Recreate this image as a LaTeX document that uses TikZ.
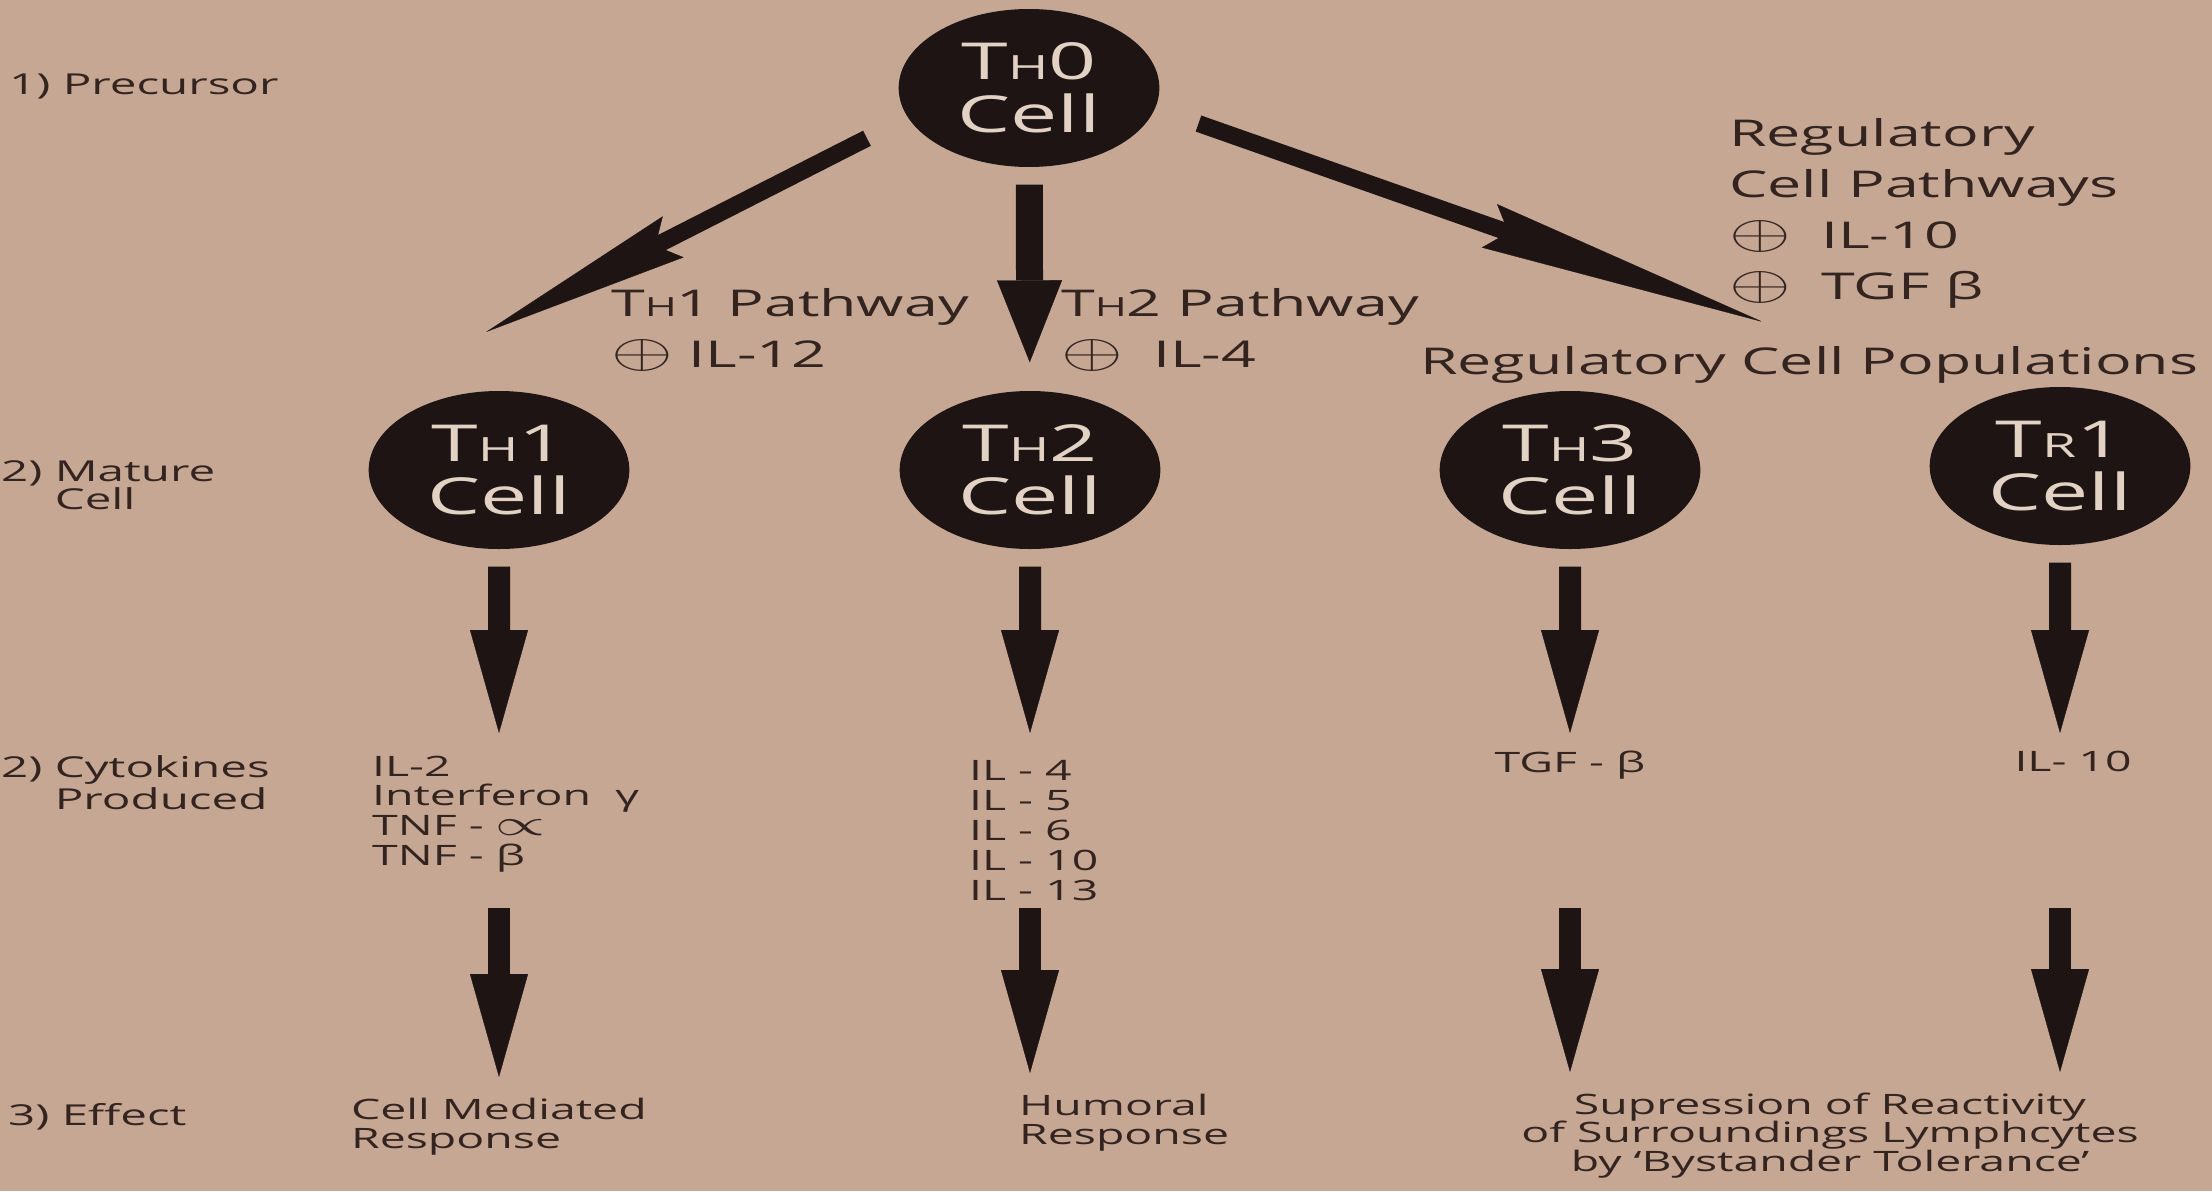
\documentclass[tikz,border=0pt]{standalone}
\usepackage{fontspec}
\setmainfont{Open Sans}
\usetikzlibrary{arrows.meta}
\definecolor{paper}{RGB}{197,167,148}
\definecolor{ink}{RGB}{30,20,20}
\definecolor{print}{RGB}{52,36,32}
\definecolor{chalk}{RGB}{226,210,196}
\newcommand{\lowcap}[2]{{\fontsize{#1}{#1}\selectfont #2}}
\newcommand{\oplusmark}{\scalebox{1.25}{$\oplus$}}
\tikzset{
  cell/.style={circle, fill=ink, minimum size=1.58cm, inner sep=0pt, xscale=1.65,
    text=chalk, align=center, font=\fontsize{14.5}{15}\selectfont},
  rowlabel/.style={anchor=north west, inner sep=0pt, xscale=1.65, align=left,
    text=print, font=\fontsize{8.2}{7.9}\selectfont},
  pathlabel/.style={anchor=north west, inner sep=0pt, xscale=1.65, align=left,
    text=print, font=\fontsize{10.5}{14.5}\selectfont},
  cytolist/.style={inner sep=0pt, xscale=1.65, text=print, font=\fontsize{8}{8.5}\selectfont},
  fatarrow/.style={draw=ink, line width=0.22cm, -{Triangle[length=1.03cm,width=0.58cm,line width=0.1pt]}},
  diagarrow/.style={draw=ink, line width=0.17cm, -{Stealth[length=#1,width=0.46cm,inset=0.2cm,line width=0.1pt]}}
}
\begin{document}
\begin{tikzpicture}
\fill[paper] (0,0) rectangle (22.12,11.91);
\useasboundingbox (0,0) rectangle (22.12,11.91);

% cells
\node[cell] (th0) at (10.29,11.03) {T\lowcap{9.5}{H}0\\Cell};
\node[cell] (th1) at (4.99,7.21) {T\lowcap{9.5}{H}1\\Cell};
\node[cell] (th2) at (10.30,7.21) {T\lowcap{9.5}{H}2\\Cell};
\node[cell] (th3) at (15.70,7.21) {T\lowcap{9.5}{H}3\\Cell};
\node[cell] (tr1) at (20.60,7.25) {T\lowcap{9.5}{R}1\\Cell};

% row labels
\node[rowlabel] (precursor) at (0.08,11.18) {1) Precursor};
\node[rowlabel] (mature) at (0,7.31) {2) Mature\\\hphantom{2) }Cell};
\node[rowlabel] (cytokines) at (0,4.36) {2) Cytokines\\\hphantom{2) }Produced};
\node[rowlabel] (effect) at (0.07,0.88) {3) Effect};

% pathways
\node[pathlabel] (th1path) at (6.10,9.03) {T\lowcap{7.5}{H}1 Pathway\\\oplusmark{} IL-12};
\node[pathlabel] (th2path) at (10.60,9.03) {T\lowcap{7.5}{H}2 Pathway\\\oplusmark{}\enspace IL-4};
\node[pathlabel] (regpath) at (17.28,10.73) {Regulatory\\Cell Pathways\\\oplusmark\enspace IL-10\\\oplusmark\enspace TGF β};
\node[pathlabel] (regpop) at (14.19,8.45) {Regulatory Cell Populations};

% cytokines
\node[cytolist, anchor=north west, align=left] (cyto1) at (3.71,4.36) {IL-2\\Interferon\ \ γ\\TNF - \scalebox{1.3}{$\propto$}\\TNF - β};
\node[cytolist, anchor=north west, align=left] (cyto2) at (9.68,4.31) {IL - 4\\IL - 5\\IL - 6\\IL - 10\\IL - 13};
\node[cytolist, anchor=north] (cyto3) at (15.70,4.41) {TGF - β};
\node[cytolist, anchor=north] (cyto4) at (20.73,4.41) {IL- 10};

% effects
\node[cytolist, anchor=north west, align=left] (effect1) at (3.50,0.94) {Cell Mediated\\Response};
\node[cytolist, anchor=north west, align=left] (effect2) at (10.18,0.98) {Humoral\\Response};
\node[cytolist, anchor=north, align=center, font=\fontsize{8}{8.1}\selectfont] (effect3) at (18.30,0.99)
  {Supression of Reactivity\\of Surroundings Lymphcytes\\by `Bystander Tolerance'};

% arrows
\coordinate (cytotip) at (0,4.58);
\coordinate (effrow) at (0,2.83);
\coordinate (th1tip) at (4.86,8.59);
\coordinate (regtip) at (17.63,8.69);

\draw[diagarrow=2.1cm, shorten <=0.45cm] (th0.202) -- (th1tip);
\draw[fatarrow, line width=0.27cm, -{Triangle[length=0.82cm,width=0.65cm,line width=0.1pt]},
  shorten <=0.17cm, shorten >=0.28cm] (th0) -- (th2);
\draw[diagarrow=2.9cm, shorten <=0.45cm] (th0.345) -- (regtip);

\foreach \c in {th1,th2,th3,tr1}
  \draw[fatarrow, shorten <=0.17cm] (\c) -- (\c |- cytotip);
\foreach \c/\e in {th1/effect1,th2/effect2,th3/effect3,tr1/effect3}
  \draw[fatarrow, shorten >=0.2cm] (\c |- effrow) -- (\c |- \e.north);
\end{tikzpicture}
\end{document}
